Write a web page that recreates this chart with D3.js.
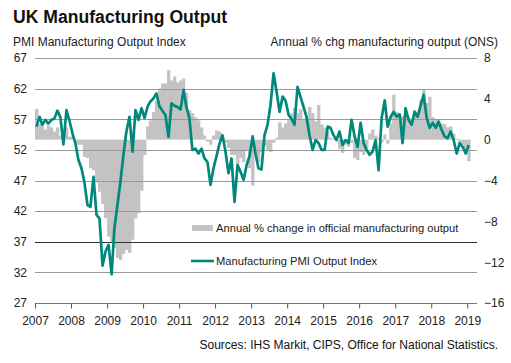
<!DOCTYPE html>
<html>
<head>
<meta charset="utf-8">
<script src="https://cdn.jsdelivr.net/npm/d3@7"></script>
<style>
  html, body { margin: 0; padding: 0; background: #fff; }
  svg { display: block; font-family: "Liberation Sans", Arial, sans-serif; }
</style>
</head>
<body>
<svg id="chart" width="511" height="363"></svg>
<script>
// ---- data ----
const startYear = 2007;           // first month = Jan 2007
const yearTicks = [2007, 2008, 2009, 2010, 2011, 2012, 2013, 2014, 2015, 2016, 2017, 2018, 2019];
const leftTicks = [27, 32, 37, 42, 47, 52, 57, 62, 67];
const rightTicks = [-16, -12, -8, -4, 0, 4, 8];

// Manufacturing PMI Output Index, monthly from Jan 2007
const pmiOutput = [
  55.8, 57.4, 56.1, 56.9, 56.3, 56.9, 57.1, 58.4, 57.3, 52.9, 58.5, 56.8,
  54.7, 53.0, 50.4, 49.0, 46.7, 43.0, 42.7, 47.6, 41.4, 40.8, 33.1, 35.4,
  36.5, 31.7, 39.2, 43.0, 46.8, 51.2, 55.0, 57.4, 51.7, 58.5, 56.9, 58.8,
  57.2, 59.1, 59.9, 60.4, 61.2, 59.1, 58.4, 57.7, 54.1, 59.6, 59.2, 59.0,
  58.6, 61.8, 59.0, 57.2, 52.0, 52.2, 51.4, 52.2, 50.6, 50.0, 46.3, 49.0,
  51.0, 53.1, 54.4, 51.7, 48.2, 50.6, 43.5, 49.5, 48.4, 47.1, 49.5, 51.0,
  54.2, 51.2, 49.0, 48.8, 54.4, 56.1, 59.3, 64.5, 61.5, 58.2, 60.7, 60.0,
  57.7, 57.0, 56.1, 62.3, 60.7, 59.0, 57.4, 54.4, 52.0, 53.6, 53.1, 52.0,
  52.0, 55.8, 55.6, 54.4, 53.6, 55.0, 52.8, 53.6, 53.1, 56.9, 54.2, 52.5,
  56.4, 53.1, 52.0, 51.2, 51.7, 53.6, 48.7, 57.2, 60.1, 55.8, 57.4, 58.2,
  57.4, 57.8, 53.1, 58.8, 56.9, 56.1, 58.2, 57.4, 59.3, 61.0, 57.2, 55.6,
  56.4, 55.6, 56.6, 55.3, 54.2, 53.9, 55.0, 53.6, 51.4, 53.1, 52.5, 51.4,
  52.8
];

// Annual % change in official manufacturing output (ONS), monthly from Jan 2007
const onsAnnualChange = [
   3.0,  1.5,  1.3,  1.0,  1.4,  1.2,  0.8,  1.2,  0.4,  0.9,  1.2,  0.3,
   0.3, -0.2, -0.5, -0.5, -1.7, -1.8, -2.8, -3.0, -4.2, -5.1, -6.3, -7.7,
  -9.5,-10.0,-10.6,-11.6,-11.8,-11.2,-10.8,-11.1, -9.8, -7.7, -7.2, -5.0,
  -1.5,  1.3,  1.9,  2.7,  3.8,  5.0,  5.5,  5.5,  6.8,  5.8,  6.2,  5.6,
   5.8,  6.0,  4.6,  2.9,  2.6,  2.2,  1.9,  1.2,  0.4, -0.2, -0.5,  0.4,
   0.9,  0.8,  0.2, -0.3, -0.8, -1.5, -1.5, -2.5, -1.8, -2.2, -1.0, -2.8,
  -4.5, -1.5, -2.2, -1.2, -0.6, -1.0, -1.2, -0.3,  0.2,  1.7,  1.2,  1.6,
   2.0,  2.6,  3.1,  2.6,  3.0,  2.0,  2.4,  3.2,  2.6,  1.8,  3.4,  1.5,
   1.2,  0.8,  0.2,  0.1, -0.1, -0.9, -1.3, -0.5, -0.7, -0.3, -1.8, -2.0,
  -1.2, -1.5, -0.8,  0.6,  1.0,  0.4,  0.2, -0.3,  0.5, -0.4,  1.6,  4.4,
   2.7,  2.1,  2.3,  2.0,  2.2,  2.0,  2.9,  2.7,  3.9,  4.9,  3.6,  4.2,
   2.2,  2.0,  1.9,  1.6,  1.5,  1.2,  1.3,  0.6,  0.1, -0.2, -0.5, -1.0,
  -2.1
];

const titleText = "UK Manufacturing Output";
const leftTitle = "PMI Manufacturing Output Index";
const rightTitle = "Annual % chg manufacturing output (ONS)";
const legendBars = "Annual % change in official manufacturing output";
const legendLine = "Manufacturing PMI Output Index";
const sourceText = "Sources: IHS Markit, CIPS, Office for National Statistics.";

// ---- layout ----
const svg = d3.select("#chart");
const plot = { left: 35, right: 477, top: 58, bottom: 303 };
const teal = "#00897B";
const barGrey = "#C3C3C3";

const monthStart = i => new Date(startYear, i, 1);
const monthMid = i => new Date(startYear, i, 16);

const x = d3.scaleTime()
  .domain([new Date(2007, 0, 1), new Date(2019, 3, 10)])
  .range([plot.left, plot.right]);
const yL = d3.scaleLinear().domain([27, 67]).range([plot.bottom, plot.top]);
const yR = d3.scaleLinear().domain([-16, 8]).range([plot.bottom, plot.top]);

// bars
svg.append("g").selectAll("rect")
  .data(onsAnnualChange)
  .join("rect")
  .attr("x", (d, i) => x(monthStart(i)))
  .attr("width", (d, i) => x(monthStart(i + 1)) - x(monthStart(i)) + 0.3)
  .attr("y", d => Math.min(yR(d), yR(0)))
  .attr("height", d => Math.abs(yR(d) - yR(0)))
  .attr("fill", barGrey);

// gridlines
svg.append("g").selectAll("line")
  .data(leftTicks.filter(t => t !== 27))
  .join("line")
  .attr("x1", plot.left).attr("x2", plot.right)
  .attr("y1", d => Math.round(yL(d)) + 0.5).attr("y2", d => Math.round(yL(d)) + 0.5)
  .attr("stroke", d => d === 37 ? "#333" : "#999")
  .attr("stroke-width", 1);

// x axis
const xAxis = d3.axisBottom(x)
  .tickValues(yearTicks.map(y => new Date(y, 0, 1)))
  .tickFormat(d3.timeFormat("%Y"))
  .tickSize(5)
  .tickSizeOuter(0);
const gx = svg.append("g")
  .attr("transform", `translate(0,${Math.round(plot.bottom) + 0.5})`)
  .call(xAxis);
gx.select(".domain").attr("stroke", "#777").attr("d", `M${plot.left},0H${plot.right}`);
gx.selectAll(".tick line").attr("stroke", "#555");
gx.selectAll(".tick text")
  .attr("font-size", 12).attr("fill", "#222")
  .attr("font-family", "Liberation Sans, Arial, sans-serif")
  .attr("dy", "1.12em");

// left axis labels
const yAxisL = d3.axisLeft(yL).tickValues(leftTicks).tickSize(0).tickPadding(0);
const gl = svg.append("g").attr("transform", `translate(${plot.left - 8},0)`).call(yAxisL);
gl.select(".domain").remove();
gl.selectAll("text").attr("font-size", 12).attr("fill", "#222")
  .attr("font-family", "Liberation Sans, Arial, sans-serif");

// right axis labels
const yAxisR = d3.axisRight(yR).tickValues(rightTicks).tickSize(0).tickPadding(0);
const gr = svg.append("g").attr("transform", `translate(${plot.right + 7},0)`).call(yAxisR);
gr.select(".domain").remove();
gr.selectAll("text").attr("font-size", 12).attr("fill", "#222")
  .attr("font-family", "Liberation Sans, Arial, sans-serif");

// line
const line = d3.line()
  .x((d, i) => x(monthMid(i)))
  .y(d => yL(d))
  .curve(d3.curveLinear);
svg.append("path")
  .datum(pmiOutput)
  .attr("d", line)
  .attr("fill", "none")
  .attr("stroke", teal)
  .attr("stroke-width", 2.7)
  .attr("stroke-linejoin", "round");

// titles
svg.append("text").attr("x", 13).attr("y", 23)
  .attr("font-size", 17.6).attr("font-weight", "bold").attr("fill", "#111")
  .text(titleText);
svg.append("text").attr("x", 13).attr("y", 46)
  .attr("font-size", 12).attr("fill", "#222")
  .text(leftTitle);
svg.append("text").attr("x", 498).attr("y", 46)
  .attr("text-anchor", "end")
  .attr("font-size", 12).attr("fill", "#222")
  .text(rightTitle);

// legend
const lg = svg.append("g");
lg.append("rect").attr("x", 192).attr("y", 225).attr("width", 21).attr("height", 6).attr("fill", barGrey);
lg.append("text").attr("x", 216).attr("y", 232).attr("font-size", 11.2).attr("fill", "#222").text(legendBars);
lg.append("line").attr("x1", 191).attr("x2", 214).attr("y1", 261).attr("y2", 261)
  .attr("stroke", teal).attr("stroke-width", 2.6);
lg.append("text").attr("x", 216).attr("y", 265).attr("font-size", 11.2).attr("fill", "#222").text(legendLine);

// source
svg.append("text").attr("x", 498).attr("y", 349)
  .attr("text-anchor", "end")
  .attr("font-size", 12).attr("fill", "#111")
  .text(sourceText);
</script>
</body>
</html>
